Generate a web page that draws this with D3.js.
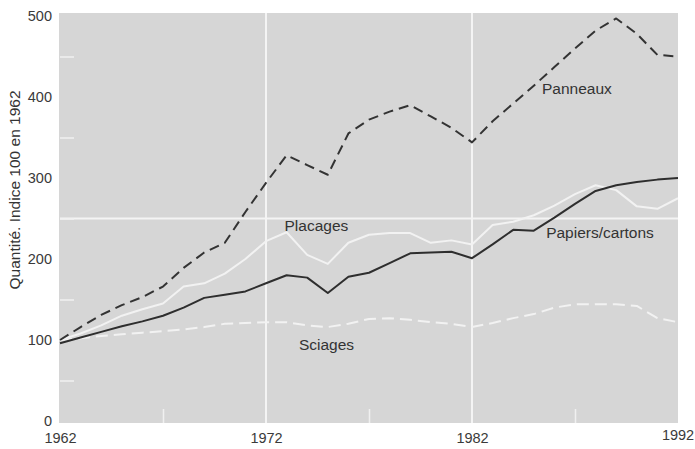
<!DOCTYPE html>
<html>
<head>
<meta charset="utf-8">
<script src="https://cdn.jsdelivr.net/npm/d3@7"></script>
<style>
body { margin:0; background:#fff; }
text { font-family: "Liberation Sans", Arial, sans-serif; }
.tick text { font-size:14.5px; fill:#3a3a3a; }
.label { font-size:15.5px; fill:#333; }
</style>
</head>
<body>
<svg id="graph1"></svg>
<script>

// values, one per year 1962..1992
var years = d3.range(1962, 1993)

var panneaux = [100,116,131,143,153,166,189,208,220,258,294,328,316,304,355,372,382,390,376,362,344,370,392,414,437,460,482,497,478,452,450]
var papiers  = [96,103,110,117,123,130,140,152,156,160,170,180,177,158,178,183,195,207,208,209,201,218,236,235,251,268,284,291,295,298,300]
var placages = [100,108,118,130,138,145,166,170,182,200,222,233,205,194,220,230,232,232,220,223,218,242,246,254,266,280,291,285,265,262,275]
var sciages  = [100,102,105,107,109,111,113,116,120,121,122,122,118,116,120,126,127,125,122,120,116,121,127,132,140,144,144,144,142,127,122]

var xTicks = [1962,1972,1982,1992]
var yTicks = [0,100,200,300,400,500]
var minorY = [50,150,250,350,450]
var minorX = [1967,1977,1987]
var gridX = [1972,1982]
var gridY = [250]

var initGraph = function()
{
    var screen = {width:695, height:449}
    var margins = {left:60, right:17, top:16, bottom:28}

    var graph =
        {
            width:screen.width-margins.left-margins.right,
            height:screen.height-margins.top-margins.bottom
        }

    var svg = d3.select("#graph1")
        .attr("width", screen.width)
        .attr("height", screen.height)

    var xScale = d3.scaleLinear()
        .domain([1962,1992])
        .range([0, graph.width])

    var yScale = d3.scaleLinear()
        .domain([0,500])
        .range([graph.height,0])

    var target = svg.append("g")
        .attr("transform","translate("+margins.left+","+margins.top+")")

    // grey panel
    target.append("rect")
        .attr("x", -1)
        .attr("y", yScale(500)-3)
        .attr("width", graph.width+1)
        .attr("height", yScale(0)-yScale(500)+5)
        .attr("fill", "#d6d6d6")

    drawGrid(target,graph,xScale,yScale)
    drawLines(target,xScale,yScale)
    drawAxis(target,graph,xScale,yScale)
    drawLabels(svg,target,graph,margins,xScale,yScale)
}

var drawGrid = function(target,graph,xScale,yScale)
{
    target.selectAll(".gx")
        .data(gridX)
        .enter()
        .append("line")
        .attr("x1", function(d){ return xScale(d) })
        .attr("x2", function(d){ return xScale(d) })
        .attr("y1", yScale(500)-3)
        .attr("y2", yScale(0)+2)
        .attr("stroke","#f4f4f4")
        .attr("stroke-width",2)

    target.selectAll(".gy")
        .data(gridY)
        .enter()
        .append("line")
        .attr("x1", 0)
        .attr("x2", graph.width)
        .attr("y1", function(d){ return yScale(d) })
        .attr("y2", function(d){ return yScale(d) })
        .attr("stroke","#f4f4f4")
        .attr("stroke-width",2)

    // short white ticks inside the panel
    var minorLeft = d3.axisRight(yScale).tickValues(minorY).tickSize(14).tickFormat("")
    target.append("g")
        .call(minorLeft)
        .call(function(g){ g.select(".domain").remove() })
        .selectAll("line").attr("stroke","#f0f0f0").attr("stroke-width",1.5)

    var minorBottom = d3.axisTop(xScale).tickValues(minorX).tickSize(14).tickFormat("")
    target.append("g")
        .attr("transform","translate(0,"+(yScale(0)+2)+")")
        .call(minorBottom)
        .call(function(g){ g.select(".domain").remove() })
        .selectAll("line").attr("stroke","#f0f0f0").attr("stroke-width",1.5)
}

var drawLines = function(target,xScale,yScale)
{
    var series = [
        {values:sciages,  color:"#f2f2f2", dash:"12,6"},
        {values:placages, color:"#f2f2f2", dash:null},
        {values:papiers,  color:"#2e2e2e", dash:null},
        {values:panneaux, color:"#333333", dash:"10,6"}
    ]

    var line = d3.line()
        .x(function(d,i){ return xScale(years[i]) })
        .y(function(d){ return yScale(d) })

    target.selectAll(".serie")
        .data(series)
        .enter()
        .append("path")
        .attr("d", function(s){ return line(s.values) })
        .attr("fill","none")
        .attr("stroke", function(s){ return s.color })
        .attr("stroke-width", 2)
        .attr("stroke-dasharray", function(s){ return s.dash })
        .attr("stroke-linejoin","round")
}

var drawAxis = function(target,graph,xScale,yScale)
{
    var xAxis = d3.axisBottom(xScale).tickValues(xTicks).tickSize(0).tickFormat(d3.format("d"))
    var yAxis = d3.axisLeft(yScale).tickValues(yTicks).tickSize(0)

    target.append("g")
        .attr("transform","translate(0,"+(graph.height+9)+")")
        .call(xAxis)
        .call(function(g){ g.select(".domain").remove() })

    // 1992 sits a little higher in the original
    target.selectAll(".tick")
        .filter(function(d){ return d === 1992 })
        .attr("transform","translate("+xScale(1992)+",-3)")

    target.append("g")
        .attr("transform","translate(-5,0)")
        .call(yAxis)
        .call(function(g){ g.select(".domain").remove() })
}

var drawLabels = function(svg,target,graph,margins,xScale,yScale)
{
    var names = [
        {text:"Panneaux", year:1985.4, value:404},
        {text:"Placages", year:1972.9, value:235},
        {text:"Papiers/cartons", year:1985.6, value:226},
        {text:"Sciages", year:1973.6, value:88}
    ]

    target.selectAll(".name")
        .data(names)
        .enter()
        .append("text")
        .classed("label",true)
        .attr("x", function(d){ return xScale(d.year) })
        .attr("y", function(d){ return yScale(d.value) })
        .text(function(d){ return d.text })

    svg.append("g")
        .attr("transform","translate(20,190)")
        .append("text")
        .text("Quantité. Indice 100 en 1962")
        .classed("label",true)
        .attr("fill","#3a3a3a")
        .attr("text-anchor","middle")
        .attr("transform","rotate(270)")
}

initGraph()

</script>
</body>
</html>
